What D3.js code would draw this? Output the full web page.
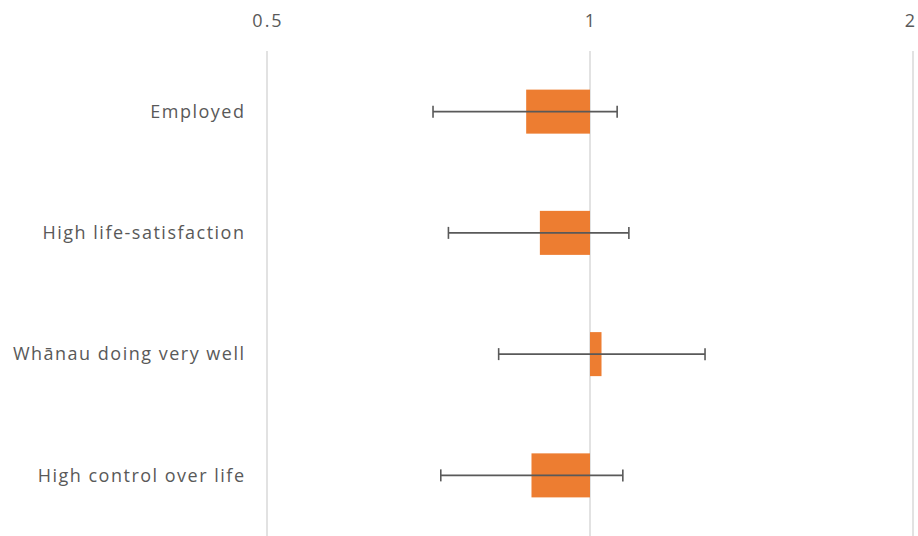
<!DOCTYPE html>
<html><head><meta charset="utf-8">
<script src="https://cdn.jsdelivr.net/npm/d3@7"></script>
<style>
html,body{margin:0;padding:0;background:#fff;}
svg text{font-family:"Open Sans","Noto Sans",sans-serif;fill:#595959;}
</style></head>
<body><svg id="c" width="918" height="536"></svg>
<script>
const categories = ["Employed","High life-satisfaction","Whānau doing very well","High control over life"];
const values = [0.872, 0.898, 1.025, 0.882];
const lower = [0.714, 0.738, 0.822, 0.726];
const upper = [1.06, 1.087, 1.28, 1.073];
const ticks = [0.5, 1, 2];

const W = 918;
const svg = d3.select("#c");
const x = d3.scaleLog().base(2).domain([0.5, 2]).range([267, 913]);
const y = d3.scaleBand().domain(categories).range([51, 536]).paddingInner(0.637).paddingOuter(0.3185);

// gridlines
svg.append("g").selectAll("line").data(ticks).join("line")
  .attr("x1", d => x(d)).attr("x2", d => x(d))
  .attr("y1", 51).attr("y2", 540)
  .attr("stroke", "#d9d9d9").attr("stroke-width", 1.5);

// tick labels
const tl = svg.append("g").selectAll("text").data(ticks).join("text")
  .attr("x", d => x(d) + 1).attr("y", 27)
  .attr("text-anchor", "middle").attr("font-size", 18).attr("letter-spacing", 2)
  .text(d => d);
// keep labels inside the picture
tl.each(function() {
  const b = this.getBBox();
  if (b.x + b.width > W - 1) this.setAttribute("x", +this.getAttribute("x") - (b.x + b.width - (W - 1)));
});

// bars
svg.append("g").selectAll("rect").data(categories).join("rect")
  .attr("x", (d,i) => Math.min(x(1), x(values[i])))
  .attr("width", (d,i) => Math.abs(x(values[i]) - x(1)))
  .attr("y", d => y(d)).attr("height", y.bandwidth())
  .attr("fill", "#ED7D31");

// error bars
const eb = svg.append("g").attr("stroke", "#595959").attr("stroke-width", 1.6);
categories.forEach((c,i) => {
  const cy = y(c) + y.bandwidth()/2;
  eb.append("line").attr("x1", x(lower[i])).attr("x2", x(upper[i])).attr("y1", cy).attr("y2", cy);
  [lower[i], upper[i]].forEach(v => {
    eb.append("line").attr("x1", x(v)).attr("x2", x(v)).attr("y1", cy-6).attr("y2", cy+6);
  });
});

// category labels
svg.append("g").selectAll("text").data(categories).join("text")
  .attr("x", 245.5).attr("y", d => y(d) + y.bandwidth()/2)
  .attr("dy", "0.35em").attr("text-anchor", "end").attr("font-size", 18).attr("letter-spacing", 1.5)
  .text(d => d);
</script></body></html>
